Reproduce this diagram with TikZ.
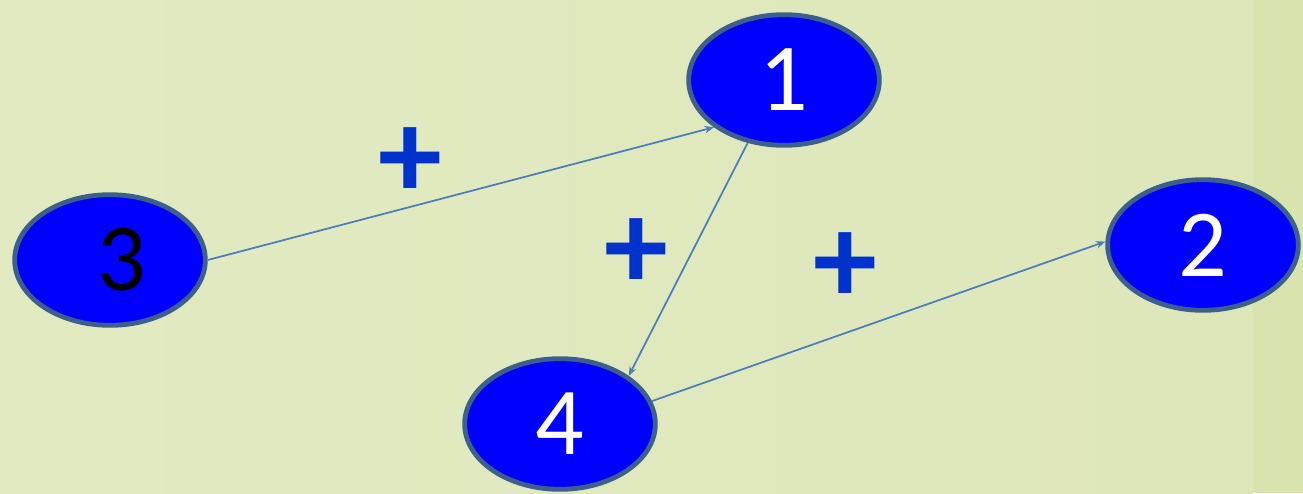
\documentclass[tikz,border=0pt]{standalone}
\usepackage{fontspec}
\setmainfont{Carlito}
\usetikzlibrary{shapes.geometric,arrows.meta}
\definecolor{bgmain}{RGB}{222,231,186}
\definecolor{bgstrip}{RGB}{216,227,174}
\definecolor{nodeborder}{RGB}{60,95,140}
\definecolor{nodefill}{RGB}{0,0,255}
\definecolor{edgecol}{RGB}{74,126,187}
\definecolor{pluscol}{RGB}{0,51,204}
\tikzset{
  vertex/.style={ellipse, draw=nodeborder, fill=nodefill, line width=3.6pt,
    minimum width=143pt, minimum height=98pt, inner sep=0pt,
    font=\fontsize{72pt}{72pt}\selectfont, text=white},
  edge/.style={draw=edgecol, line width=1.3pt, -{Stealth[length=7pt,width=5.5pt]}},
  sign/.style={text=pluscol, font=\bfseries\fontsize{96pt}{96pt}\selectfont, inner sep=0pt}
}
\begin{document}
\begin{tikzpicture}[x=0.75pt,y=-0.75pt]
\useasboundingbox (0,0) rectangle (1303,493);
\shade[left color=bgmain!88!white, right color=bgmain] (0,0) rectangle (1253,493);
\fill[bgstrip] (1253,0) rectangle (1303,493);
\node[vertex] (n1) at (784,80) {1};
\node[vertex, text=black] (n3) at (110,260) {\hspace{18pt}3};
\node[vertex] (n2) at (1203,245) {2};
\node[vertex] (n4) at (560,424) {4};
\draw[edge] (n3.east) -- (n1.214);
\draw[edge] (n1.240) -- (n4.35);
\draw[edge] (n4.14) -- (n2.178);
\node[sign] (p1) at (410,163) {+};
\node[sign] (p2) at (636,254) {+};
\node[sign] (p3) at (845,268) {+};
\end{tikzpicture}
\end{document}
